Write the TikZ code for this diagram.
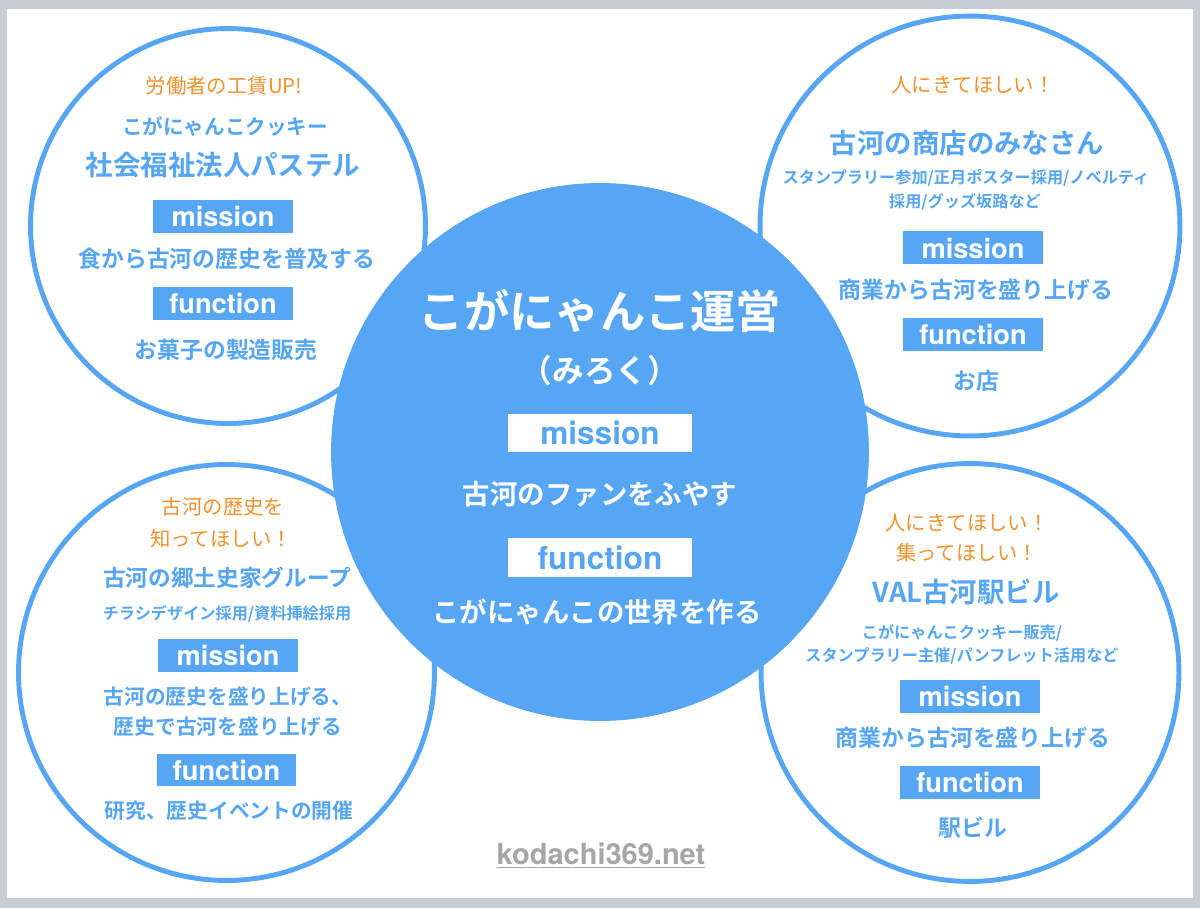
\documentclass[tikz,border=0pt]{standalone}
\usepackage{fontspec}
\setmainfont{Noto Sans CJK JP}[BoldFont={Noto Sans CJK JP Bold}]
\newfontfamily\latinfont{TeX Gyre Heros}
\definecolor{kogaBlue}{HTML}{56A6F3}
\definecolor{kogaOrange}{HTML}{F0922E}
\definecolor{webGray}{HTML}{A6A6A6}
\definecolor{pageGray}{HTML}{C9CED5}
\begin{document}
\begin{tikzpicture}[x=0.02cm,y=-0.02cm,
    ring/.style={circle,draw=kogaBlue,line width=2.8pt,inner sep=0pt,fill=white},
    hub/.style={circle,fill=kogaBlue,inner sep=0pt,minimum size=10.76cm},
    wish/.style={inner sep=0pt,text=kogaOrange,font=\fontsize{11.6}{13}\selectfont},
    who/.style={inner sep=0pt,text=kogaBlue,font=\bfseries\fontsize{15.6}{18}\selectfont},
    sub/.style={inner sep=0pt,text=kogaBlue,font=\bfseries\fontsize{11.7}{14}\selectfont},
    note/.style={inner sep=0pt,text=kogaBlue,font=\bfseries\fontsize{9.2}{11}\selectfont},
    body/.style={inner sep=0pt,text=kogaBlue,font=\bfseries\fontsize{13}{15}\selectfont},
    tag/.style={fill=kogaBlue,text=white,inner sep=0pt,minimum width=2.8cm,minimum height=0.66cm,
      font=\latinfont\bfseries\fontsize{15.5}{17}\selectfont},
    hubtag/.style={fill=white,text=kogaBlue,inner sep=0pt,minimum width=3.68cm,minimum height=0.78cm,
      font=\latinfont\bfseries\fontsize{18}{20}\selectfont},
    hubtext/.style={inner sep=0pt,text=white,font=\bfseries\fontsize{15.6}{18}\selectfont}]
  \useasboundingbox (0,0) rectangle (1200,908);%
  \fill[pageGray] (0,0) rectangle (1200,908);%
  \fill[white] (7,9) rectangle (1193,898);%

  % four outer circles
  \node[ring,minimum size=7.9cm] (TL) at (228,226) {};%
  \node[ring,minimum size=8.4cm] (TR) at (970,226) {};%
  \node[ring,minimum size=8.32cm] (BL) at (226.5,672.5) {};%
  \node[ring,minimum size=8.36cm] (BR) at (970,672.5) {};%

  % centre
  \node[hub] (C) at (600,452) {};%
  \node[hubtext,font=\bfseries\fontsize{25.8}{30}\selectfont] (Ctitle) at (600,311) {こがにゃんこ運営};%
  \node[hubtext,font=\bfseries\fontsize{18}{21}\selectfont] (Cname) at (600,370) {（みろく）};%
  \node[hubtag] (Cmis) at (600,433) {mission};%
  \node[hubtext] (Cmistext) at (600,494) {古河のファンをふやす};%
  \node[hubtag] (Cfun) at (600,557.5) {function};%
  \node[hubtext] (Cfuntext) at (597,612) {こがにゃんこの世界を作る};%

  % top left
  \node[wish] (TLwish) at (224,86) {労働者の工賃UP!};%
  \node[sub] (TLsub) at (225,127) {こがにゃんこクッキー};%
  \node[who] (TLwho) at (223,165) {社会福祉法人パステル};%
  \node[tag] (TLmis) at (223,216.5) {mission};%
  \node[body] (TLmistext) at (227,259) {食から古河の歴史を普及する};%
  \node[tag] (TLfun) at (223,303.5) {function};%
  \node[body] (TLfuntext) at (226,350) {お菓子の製造販売};%

  % top right
  \node[wish] (TRwish) at (973,85) {人にきてほしい！};%
  \node[who] (TRwho) at (967,143) {古河の商店のみなさん};%
  \node[note] (TRnote1) at (966,178) {スタンプラリー参加/正月ポスター採用/ノベルティ};%
  \node[note] (TRnote2) at (965,202) {採用/グッズ坂路など};%
  \node[tag] (TRmis) at (973,248) {mission};%
  \node[body] (TRmistext) at (976,290) {商業から古河を盛り上げる};%
  \node[tag] (TRfun) at (973,334.5) {function};%
  \node[body] (TRfuntext) at (976,381) {お店};%

  % bottom left
  \node[wish] (BLwish1) at (223,507) {古河の歴史を};%
  \node[wish] (BLwish2) at (221,539) {知ってほしい！};%
  \node[who,font=\bfseries\fontsize{12.9}{15}\selectfont] (BLwho) at (227,578) {古河の郷土史家グループ};%
  \node[note] (BLnote) at (227,614) {チラシデザイン採用/資料挿絵採用};%
  \node[tag] (BLmis) at (228,655.5) {mission};%
  \node[body,font=\bfseries\fontsize{11.8}{14}\selectfont] (BLmistext1) at (228,697) {古河の歴史を盛り上げる、};%
  \node[body,font=\bfseries\fontsize{11.8}{14}\selectfont] (BLmistext2) at (228,727) {歴史で古河を盛り上げる};%
  \node[tag] (BLfun) at (226.5,770) {function};%
  \node[body,font=\bfseries\fontsize{11.8}{14}\selectfont] (BLfuntext) at (229,811) {研究、歴史イベントの開催};%

  % bottom right
  \node[wish] (BRwish1) at (967,523) {人にきてほしい！};%
  \node[wish] (BRwish2) at (967,553) {集ってほしい！};%
  \node[who] (BRwho) at (966,592) {VAL古河駅ビル};%
  \node[note] (BRnote1) at (962,633) {こがにゃんこクッキー販売/};%
  \node[note] (BRnote2) at (962,656) {スタンプラリー主催/パンフレット活用など};%
  \node[tag] (BRmis) at (970,696.5) {mission};%
  \node[body] (BRmistext) at (973,738) {商業から古河を盛り上げる};%
  \node[tag] (BRfun) at (970,782) {function};%
  \node[body] (BRfuntext) at (973,828) {駅ビル};%

  \node[inner sep=0pt,text=webGray,font=\latinfont\bfseries\fontsize{16.5}{19}\selectfont] (web) at (601,856) {\underline{kodachi369.net}};%
\end{tikzpicture}
\end{document}
